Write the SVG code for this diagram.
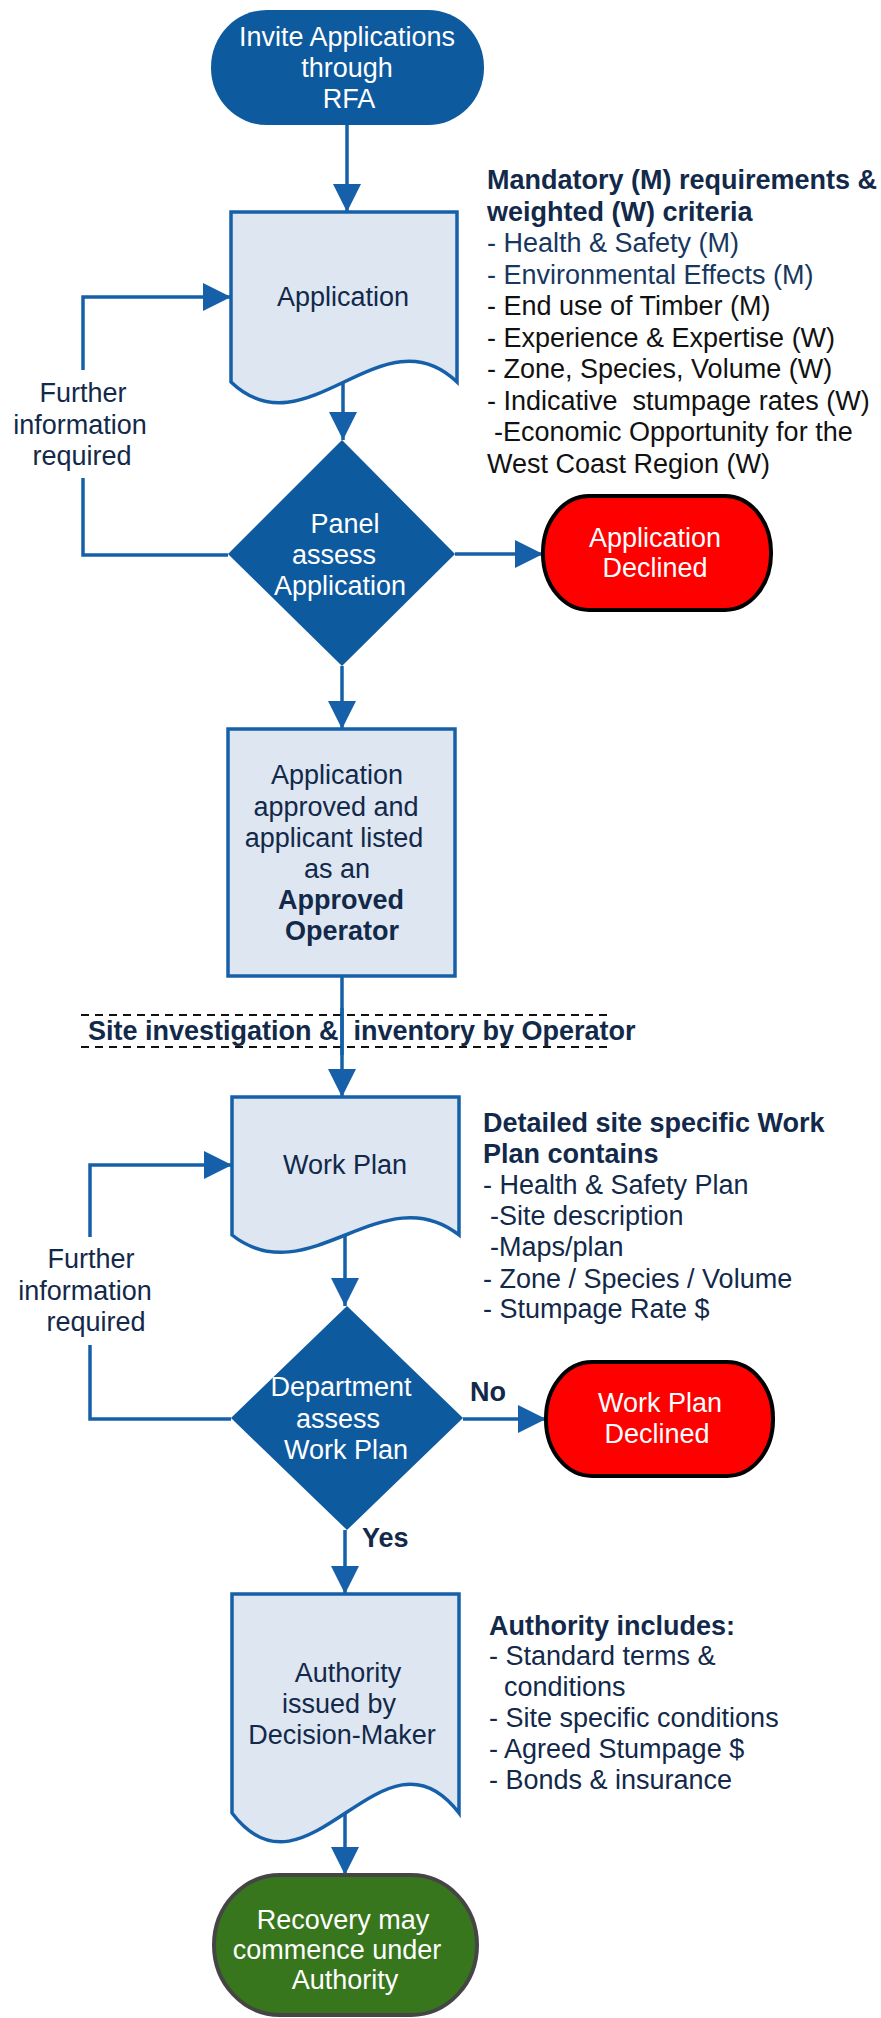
<svg xmlns="http://www.w3.org/2000/svg" width="881" height="2018" viewBox="0 0 881 2018">
<style>
text{font-family:"Liberation Sans",Arial,sans-serif;font-size:27px;fill:#12294a}
.w{fill:#fff}
.c{text-anchor:middle}
.b{font-weight:bold}
.k{fill:#111}
.n{fill:#17375e}
.blue{fill:#0e5a9e}
.doc{fill:#dee6f1;stroke:#1660a9;stroke-width:3.5}
.red{fill:#ff0000;stroke:#000;stroke-width:4}
.grn{fill:#38761d;stroke:#454545;stroke-width:4}
.ln{fill:none;stroke:#1660a9;stroke-width:3.5}
.dash{fill:none;stroke:#111;stroke-width:2;stroke-dasharray:8 6}
</style>
<defs>
<marker id="ah" markerUnits="userSpaceOnUse" markerWidth="30" markerHeight="30" refX="28" refY="14" orient="auto">
<path d="M0,0 L28,14 L0,28 Z" fill="#1660a9"/>
</marker>
</defs>
<rect width="881" height="2018" fill="#fff"/>

<g id="connectors">
<path class="ln" d="M347,125 V212" marker-end="url(#ah)"/>
<path class="ln" d="M343,380 V440" marker-end="url(#ah)"/>
<path class="ln" d="M455,554 H543" marker-end="url(#ah)"/>
<path class="ln" d="M342,666 V729" marker-end="url(#ah)"/>
<path class="ln" d="M228,555 H83 V478"/>
<path class="ln" d="M83,370 V297 H231" marker-end="url(#ah)"/>
<path class="ln" d="M342,976 V1097" marker-end="url(#ah)"/>
<path class="ln" d="M345,1235 V1306" marker-end="url(#ah)"/>
<path class="ln" d="M463,1419 H546" marker-end="url(#ah)"/>
<path class="ln" d="M231,1419 H90 V1345"/>
<path class="ln" d="M90,1237 V1165 H232" marker-end="url(#ah)"/>
<path class="ln" d="M345,1530 V1594" marker-end="url(#ah)"/>
<path class="ln" d="M345,1813 V1875" marker-end="url(#ah)"/>
</g>

<g id="invite">
<rect class="blue" x="211" y="10" width="273" height="115" rx="56" ry="57"/>
<text class="w c" x="347" y="46">Invite Applications</text>
<text class="w c" x="347" y="77">through</text>
<text class="w c" x="349" y="108">RFA</text>
</g>

<g id="application">
<path class="doc" d="M231,212 H457 V382 C382,310 306,454 231,382 Z"/>
<text class="c" x="343" y="306">Application</text>
</g>

<g id="criteria">
<text class="b" x="487" y="189">Mandatory (M) requirements &amp;</text>
<text class="b" x="487" y="220.5">weighted (W) criteria</text>
<text class="n" x="487" y="252">- Health &amp; Safety (M)</text>
<text class="n" x="487" y="283.5">- Environmental Effects (M)</text>
<text class="k" x="487" y="315">- End use of Timber (M)</text>
<text class="k" x="487" y="346.5">- Experience &amp; Expertise (W)</text>
<text class="k" x="487" y="378">- Zone, Species, Volume (W)</text>
<text class="k" x="487" y="409.5" style="white-space:pre">- Indicative  stumpage rates (W)</text>
<text class="k" x="494" y="441">-Economic Opportunity for the</text>
<text class="k" x="487" y="472.5">West Coast Region (W)</text>
</g>

<g id="feedback1">
<text class="c" x="83" y="402">Further</text>
<text class="c" x="80" y="433.5">information</text>
<text class="c" x="82" y="465">required</text>
</g>

<g id="panel">
<path class="blue" d="M342,440 L455,554 L342,666 L228,554 Z"/>
<text class="w c" x="345" y="533">Panel</text>
<text class="w c" x="334" y="564">assess</text>
<text class="w c" x="340" y="595">Application</text>
</g>

<g id="app-declined">
<rect class="red" x="543" y="496" width="228" height="114" rx="46" ry="56"/>
<text class="w c" x="655" y="547">Application</text>
<text class="w c" x="655" y="577">Declined</text>
</g>

<g id="approved">
<rect class="doc" x="228" y="729" width="227" height="247"/>
<text class="c" x="337" y="784">Application</text>
<text class="c" x="336" y="816">approved and</text>
<text class="c" x="334" y="847">applicant listed</text>
<text class="c" x="337" y="878">as an</text>
<text class="c b" x="341" y="909">Approved</text>
<text class="c b" x="342" y="940">Operator</text>
</g>

<g id="site-investigation">
<path class="dash" d="M81,1015 H613 M81,1047 H613"/>
<text class="b" x="88" y="1040" style="white-space:pre">Site investigation &amp;  inventory by Operator</text>
<path class="ln" d="M342,1008 V1055"/>
</g>

<g id="workplan">
<path class="doc" d="M232,1097 H459 V1235 C383,1175 308,1295 232,1235 Z"/>
<text class="c" x="345" y="1174">Work Plan</text>
</g>

<g id="workplan-contents">
<text class="b" x="483" y="1132">Detailed site specific Work</text>
<text class="b" x="483" y="1163">Plan contains</text>
<text x="483" y="1194">- Health &amp; Safety Plan</text>
<text x="490" y="1225">-Site description</text>
<text x="490" y="1256">-Maps/plan</text>
<text x="483" y="1288">- Zone / Species / Volume</text>
<text x="483" y="1318">- Stumpage Rate $</text>
</g>

<g id="feedback2">
<text class="c" x="91" y="1268">Further</text>
<text class="c" x="85" y="1299.5">information</text>
<text class="c" x="96" y="1331">required</text>
</g>

<g id="department">
<path class="blue" d="M347,1306 L463,1418 L347,1530 L231,1418 Z"/>
<text class="w c" x="341" y="1396">Department</text>
<text class="w c" x="338" y="1428">assess</text>
<text class="w c" x="346" y="1459">Work Plan</text>
<text class="b" x="470" y="1401">No</text>
<text class="b" x="362" y="1547">Yes</text>
</g>

<g id="wp-declined">
<rect class="red" x="546" y="1362" width="227" height="114" rx="46" ry="56"/>
<text class="w c" x="660" y="1412">Work Plan</text>
<text class="w c" x="657" y="1443">Declined</text>
</g>

<g id="authority">
<path class="doc" d="M232,1594 H459 V1813 C383,1713 308,1913 232,1813 Z"/>
<text class="c" x="348" y="1682">Authority</text>
<text class="c" x="339" y="1713">issued by</text>
<text class="c" x="342" y="1744">Decision-Maker</text>
</g>

<g id="authority-includes">
<text class="b" x="489" y="1635">Authority includes:</text>
<text x="489" y="1665">- Standard terms &amp;</text>
<text x="504" y="1696">conditions</text>
<text x="489" y="1727">- Site specific conditions</text>
<text x="489" y="1758">- Agreed Stumpage $</text>
<text x="489" y="1789">- Bonds &amp; insurance</text>
</g>

<g id="recovery">
<rect class="grn" x="214" y="1875" width="263" height="140" rx="66" ry="70"/>
<text class="w c" x="343" y="1929">Recovery may</text>
<text class="w c" x="337" y="1959">commence under</text>
<text class="w c" x="345" y="1989">Authority</text>
</g>
</svg>
